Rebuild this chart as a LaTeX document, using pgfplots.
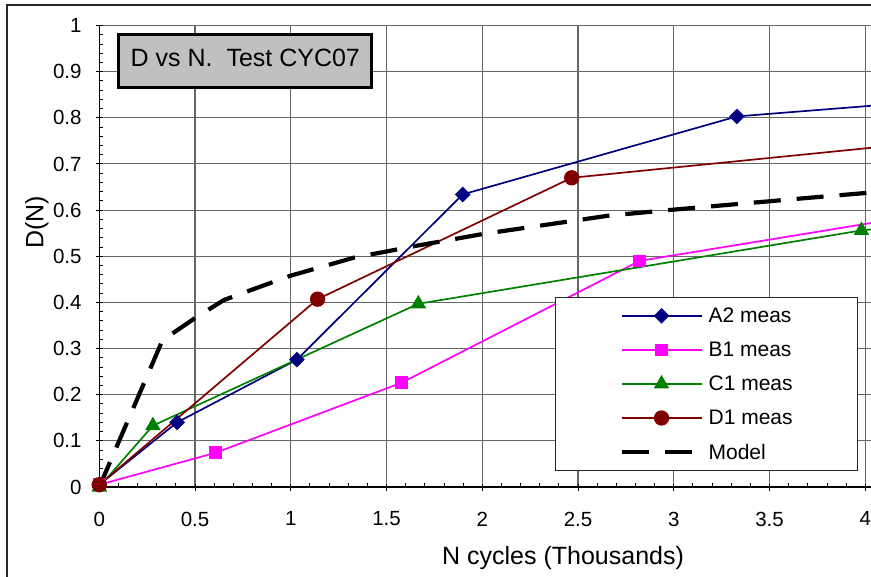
\documentclass[border=0pt]{standalone}
\usepackage{pgfplots}
\pgfplotsset{compat=1.18}
\usepackage{fontspec}
\setmainfont{Liberation Sans}
\definecolor{navyA}{RGB}{0,0,128}
\definecolor{magB}{RGB}{255,0,255}
\definecolor{greenC}{RGB}{0,128,0}
\definecolor{redD}{RGB}{128,0,0}
\definecolor{silver}{RGB}{192,192,192}
\begin{document}
\begin{tikzpicture}
\useasboundingbox (-99.3bp,-90bp) rectangle (771.7bp,487bp);
\clip (-99.3bp,-90bp) rectangle (771.7bp,487bp);
\draw[line width=1.3bp, black!85] (-92.3bp,-200bp) -- (-92.3bp,482bp) -- (900bp,482bp);
\begin{axis}[
  scale only axis, width=771.7bp, height=461.5bp,
  xmin=0, xmax=4.03, ymin=0, ymax=1,
  axis x line*=bottom, axis y line*=left,
  axis line style={line width=1.2bp, black},
  xtick={0,0.5,1,1.5,2,2.5,3,3.5,4},
  ytick={0,0.1,0.2,0.3,0.4,0.5,0.6,0.7,0.8,0.9,1},
  minor x tick num=4, minor y tick num=4,
  tick align=center, major tick length=7bp, minor tick length=4bp,
  tick style={black, line width=0.9bp},
  minor x tick style={yshift=2bp}, minor y tick style={xshift=2bp},
  grid=major, major grid style={black!60, line width=1.1bp},
  /pgf/number format/assume math mode=true,
  ticklabel style={font=\fontsize{20.5bp}{24bp}\selectfont},
  xticklabel style={inner sep=0bp, anchor=north, yshift=-21bp},
  yticklabel style={inner sep=0bp, anchor=east, xshift=-14bp},
  xlabel={N cycles (Thousands)},
  ylabel={D(N)},
  label style={font=\fontsize{25bp}{30bp}\selectfont, inner sep=0bp},
  xlabel style={at={(axis description cs:0.601,-0.169)}, anchor=base},
  ylabel style={at={(axis description cs:-0.0726,0.574)}, anchor=base},
  legend style={at={(rel axis cs:0.5905,0.411)}, anchor=north west,
    draw=black!85, line width=0.9bp, fill=white,
    font=\fontsize{21bp}{25bp}\selectfont,
    inner xsep=64bp, inner ysep=9bp, row sep=16bp, column sep=4bp,
    nodes={inner sep=1bp}},
  legend cell align=left,
  legend image code/.code={\draw[mark repeat=2,mark phase=2,#1] plot coordinates {(0bp,0bp) (40bp,0bp) (80bp,0bp)};},
]
\addplot[navyA, line width=1.7bp, mark=square*, mark size=4.7bp, mark options={rotate=45, solid, fill=navyA}]
  coordinates {(0,0.005) (0.406,0.140) (1.032,0.276) (1.898,0.634) (3.33,0.803)};
\addlegendentry{A2 meas}
\addplot[magB, line width=1.7bp, mark=square*, mark size=5.5bp, mark options={solid, fill=magB}]
  coordinates {(0,0.005) (0.606,0.074) (1.579,0.226) (2.822,0.490)};
\addlegendentry{B1 meas}
\addplot[greenC, line width=1.7bp, mark=triangle*, mark size=7.3bp, mark options={solid, fill=greenC}]
  coordinates {(0,0.0) (0.28,0.133) (1.666,0.397) (3.98,0.556)};
\addlegendentry{C1 meas}
\addplot[redD, line width=1.7bp, mark=*, mark size=6.8bp, mark options={solid, fill=redD}]
  coordinates {(0,0.005) (1.14,0.407) (2.467,0.670)};
\addlegendentry{D1 meas}
\addplot[black, line width=4.2bp, dash pattern=on 27bp off 16bp, mark=none]
  coordinates {(0,0) (0.33,0.318) (0.5,0.366) (0.65,0.405) (0.8,0.428) (1.0,0.458) (1.33,0.497) (1.66,0.523) (2.0,0.548) (2.33,0.568) (2.66,0.588) (3.0,0.601) (3.33,0.613) (3.66,0.625) (4.0,0.637) (4.03,0.638)};
\addlegendentry{Model}
\addplot[navyA, line width=1.7bp, forget plot] coordinates {(3.33,0.803) (4.03,0.826)};
\addplot[magB, line width=1.7bp, forget plot] coordinates {(2.822,0.490) (4.03,0.572)};
\addplot[greenC, line width=1.7bp, forget plot] coordinates {(3.98,0.556) (4.03,0.558)};
\addplot[redD, line width=1.7bp, forget plot] coordinates {(2.467,0.670) (4.03,0.735)};
\node[draw=black, line width=3bp, fill=silver, minimum width=253bp, minimum height=53bp,
  inner sep=0bp, text height=18.3bp, text depth=7.6bp,
  font=\fontsize{25bp}{30bp}\selectfont] at (rel axis cs:0.1892,0.9224) {D vs N.\ \ Test CYC07};
\end{axis}
\end{tikzpicture}
\end{document}
